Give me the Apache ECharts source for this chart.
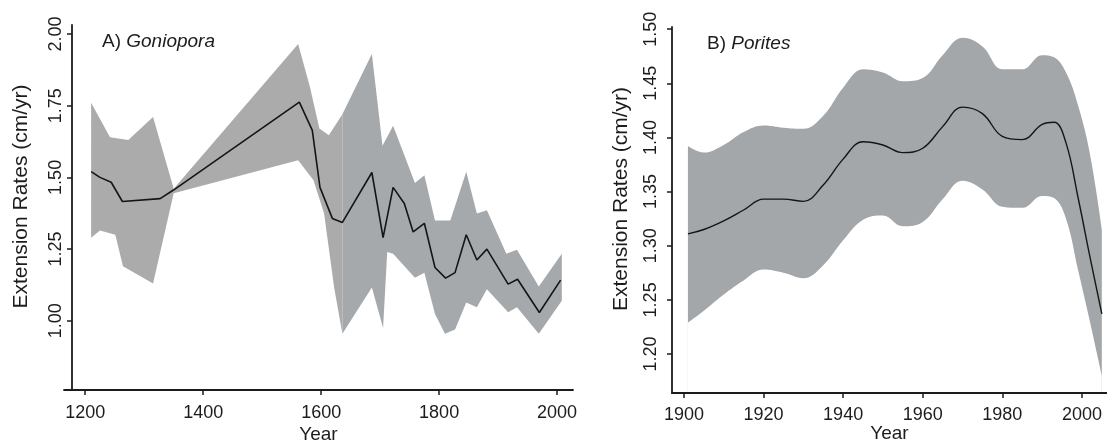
<!DOCTYPE html>
<html>
<head>
<meta charset="utf-8">
<script src="https://cdn.jsdelivr.net/npm/echarts@6/dist/echarts.min.js"></script>
<style>
html,body{margin:0;padding:0;background:#fff;}
#chart{width:1107px;height:441px;}
</style>
</head>
<body>
<div id="chart"></div>
<script>
// ---------- Panel A: Goniopora ----------
const goniLineYears = [1210,1225,1244,1263,1327,1349,1563,1585,1598,1619,1636,1686,1705,1722,1741,1756,1775,1793,1811,1827,1846,1864,1881,1917,1933,1970,2006];
const goniLineVals  = [1.52,1.50,1.483,1.416,1.426,1.455,1.762,1.664,1.465,1.357,1.343,1.517,1.29,1.465,1.409,1.31,1.34,1.186,1.149,1.168,1.30,1.212,1.25,1.128,1.145,1.029,1.142];
// confidence band, early part (to ~1636) [year, value]
const goniBandAUpper = [[1210,1.76],[1242,1.64],[1273,1.63],[1315,1.71],[1350,1.46],[1561,1.965],[1581,1.815],[1597,1.67],[1613,1.647],[1636,1.72]];
const goniBandALower = [[1210,1.29],[1225,1.315],[1251,1.30],[1264,1.19],[1315,1.13],[1350,1.445],[1561,1.56],[1587,1.49],[1605,1.374],[1622,1.116],[1636,0.955]];
// confidence band, later part
const goniBandBUpper = [[1636,1.72],[1686,1.93],[1704,1.61],[1722,1.68],[1759,1.48],[1775,1.507],[1793,1.35],[1819,1.35],[1846,1.52],[1864,1.374],[1881,1.385],[1914,1.234],[1932,1.248],[1969,1.12],[2008,1.234]];
const goniBandBLower = [[1636,0.955],[1686,1.116],[1705,0.975],[1712,1.24],[1722,1.234],[1759,1.15],[1775,1.168],[1793,1.024],[1810,0.955],[1827,0.97],[1846,1.064],[1864,1.047],[1881,1.11],[1917,1.03],[1932,1.047],[1969,0.955],[2008,1.07]];
const goniXTicks = [1200,1400,1600,1800,2000];
const goniYTicks = [1.00,1.25,1.50,1.75,2.00];

// ---------- Panel B: Porites ----------
const porYears = [1901,1905,1910,1915,1920,1925,1930,1935,1940,1945,1950,1955,1960,1965,1970,1975,1980,1985,1990,1993,1996,1999,2002,2005];
const porMean  = [1.311,1.315,1.323,1.333,1.343,1.343,1.341,1.356,1.380,1.396,1.393,1.386,1.390,1.410,1.428,1.422,1.401,1.398,1.412,1.414,1.395,1.345,1.290,1.237];
const porUpper = [1.392,1.386,1.393,1.405,1.411,1.409,1.408,1.420,1.446,1.463,1.460,1.452,1.455,1.476,1.492,1.484,1.463,1.463,1.476,1.474,1.460,1.430,1.385,1.315];
const porLower = [1.229,1.240,1.255,1.268,1.278,1.275,1.270,1.282,1.305,1.324,1.328,1.318,1.322,1.343,1.360,1.352,1.336,1.335,1.346,1.344,1.325,1.278,1.230,1.180];
const porXTicks = [1900,1920,1940,1960,1980,2000];
const porYTicks = [1.20,1.25,1.30,1.35,1.40,1.45,1.50];

const FONT = 'Liberation Sans, Arial, sans-serif';
const INK = '#1c1c1c';

function bandSeries(upper, lower, color, axisIdx) {
  return {
    type: 'custom',
    xAxisIndex: axisIdx, yAxisIndex: axisIdx,
    silent: true,
    clip: true,
    data: [upper[0]],
    renderItem: function (params, api) {
      const pts = [];
      upper.forEach(p => pts.push(api.coord(p)));
      for (let i = lower.length - 1; i >= 0; i--) pts.push(api.coord(lower[i]));
      return { type: 'polygon', shape: { points: pts }, style: { fill: color, stroke: null } };
    },
    z: 1
  };
}

function xAxisCfg(idx, min, max, ticks, gap, margin) {
  return {
    type: 'value', gridIndex: idx, min: min, max: max, z: 10,
    name: 'Year', nameLocation: 'middle', nameGap: gap, nameMoveOverlap: false,
    nameTextStyle: { fontFamily: FONT, fontSize: 19, color: INK },
    axisLine: { show: true, onZero: false, lineStyle: { color: INK, width: 1.8 } },
    axisTick: { show: true, length: 5, customValues: ticks, lineStyle: { color: INK, width: 1.5 } },
    axisLabel: { customValues: ticks, margin: margin, fontFamily: FONT, fontSize: 18, color: INK,
      formatter: v => String(v) },
    splitLine: { show: false }
  };
}
function yAxisCfg(idx, min, max, ticks, margin, offset) {
  return {
    type: 'value', gridIndex: idx, min: min, max: max, offset: offset, z: 10,
    name: 'Extension Rates (cm/yr)', nameLocation: 'middle', nameGap: 40, nameRotate: 90,
    nameMoveOverlap: false,
    nameTextStyle: { fontFamily: FONT, fontSize: 21, color: INK, padding: [0, 0, 0, 22] },
    axisLine: { show: true, onZero: false, lineStyle: { color: INK, width: 1.8 } },
    axisTick: { show: true, length: 5, customValues: ticks, lineStyle: { color: INK, width: 1.5 } },
    axisLabel: { customValues: ticks, rotate: 90, margin: margin, fontFamily: FONT, fontSize: 18, color: INK,
      formatter: v => v.toFixed(2) },
    splitLine: { show: false }
  };
}

const titleRich = {
  n: { fontFamily: FONT, fontSize: 19, color: INK, fontWeight: 'normal' },
  i: { fontFamily: FONT, fontSize: 19, color: INK, fontWeight: 'normal', fontStyle: 'italic' }
};

const option = {
  animation: false,
  backgroundColor: '#ffffff',
  title: [
    { text: '{n|A) }{i|Goniopora}', left: 97, top: 27, textStyle: { fontWeight: 'normal', rich: titleRich } },
    { text: '{n|B) }{i|Porites}', left: 702, top: 29, textStyle: { fontWeight: 'normal', rich: titleRich } }
  ],
  grid: [
    { left: 64, width: 509, top: 25, bottom: 51, containLabel: false, outerBoundsMode: 'none' },
    { left: 672, right: 0, top: 27, bottom: 48, containLabel: false, outerBoundsMode: 'none' }
  ],
  xAxis: [
    xAxisCfg(0, 1164, 2027, goniXTicks, 35, 14),
    xAxisCfg(1, 1897, 2006.3, porXTicks, 31, 13)
  ],
  yAxis: [
    yAxisCfg(0, 0.759, 2.031, goniYTicks, 7, -8),
    yAxisCfg(1, 1.164, 1.502, porYTicks, 12, 0)
  ],
  series: [
    bandSeries(goniBandAUpper, goniBandALower, '#ababab', 0),
    bandSeries(goniBandBUpper, goniBandBLower, '#a5a9ab', 0),
    {
      type: 'line', xAxisIndex: 0, yAxisIndex: 0, silent: true,
      data: goniLineYears.map((y, i) => [y, goniLineVals[i]]),
      showSymbol: false, symbol: 'none',
      lineStyle: { color: '#151515', width: 1.6 }, z: 3
    },
    // Porites band: grey area under the upper bound, then white area under the lower bound
    {
      type: 'line', xAxisIndex: 1, yAxisIndex: 1, silent: true,
      data: porYears.map((y, i) => [y, porUpper[i]]),
      smooth: 0.4, showSymbol: false, symbol: 'none',
      lineStyle: { width: 0, color: '#a3a7a9' },
      areaStyle: { color: '#a3a7a9', opacity: 1, origin: 'start' }, z: 1
    },
    {
      type: 'line', xAxisIndex: 1, yAxisIndex: 1, silent: true,
      data: porYears.map((y, i) => [y, porLower[i]]),
      smooth: 0.4, showSymbol: false, symbol: 'none',
      lineStyle: { width: 0, color: '#ffffff' },
      areaStyle: { color: '#ffffff', opacity: 1, origin: 'start' }, z: 2
    },
    {
      type: 'line', xAxisIndex: 1, yAxisIndex: 1, silent: true,
      data: porYears.map((y, i) => [y, porMean[i]]),
      smooth: 0.4, showSymbol: false, symbol: 'none',
      lineStyle: { color: '#151515', width: 1.4 }, z: 3
    }
  ]
};

const chart = echarts.init(document.getElementById('chart'), null, { renderer: 'canvas' });
chart.setOption(option);
</script>
</body>
</html>
